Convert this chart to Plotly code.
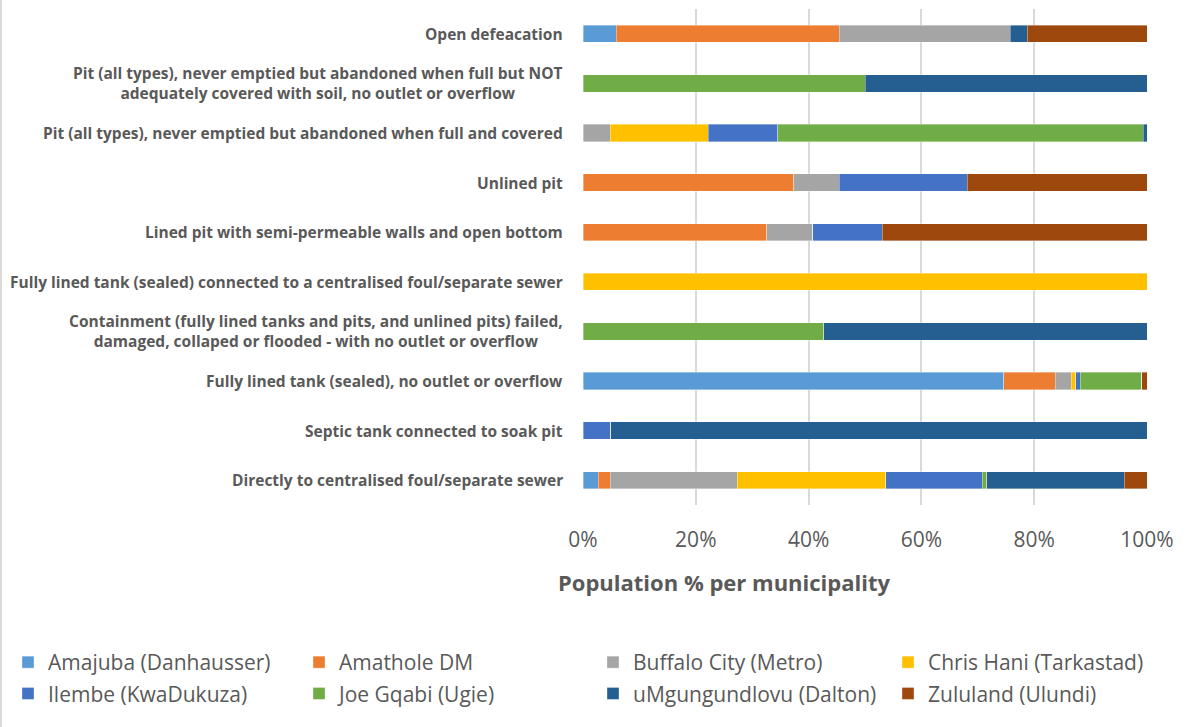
import plotly.graph_objects as go

categories = [
    "Open defeacation",
    "Pit (all types), never emptied but abandoned when full but NOT<br>adequately covered with soil, no outlet or overflow",
    "Pit (all types), never emptied but abandoned when full and covered",
    "Unlined pit",
    "Lined pit with semi-permeable walls and open bottom",
    "Fully lined tank (sealed) connected to a centralised foul/separate sewer",
    "Containment (fully lined tanks and pits, and unlined pits) failed,<br>damaged, collaped or flooded - with no outlet or overflow",
    "Fully lined tank (sealed), no outlet or overflow",
    "Septic tank connected to soak pit",
    "Directly to centralised foul/separate sewer",
]

series_names = [
    "Amajuba (Danhausser)", "Amathole DM", "Buffalo City (Metro)", "Chris Hani (Tarkastad)",
    "Ilembe (KwaDukuza)", "Joe Gqabi (Ugie)", "uMgungundlovu (Dalton)", "Zululand (Ulundi)",
]

amajuba       = [5.9, 0,    0,    0,    0,    0,   0,    74.6, 0,    2.7]
amathole      = [39.5, 0,   0,    37.4, 32.6, 0,   0,    9.1,  0,    2.1]
buffalo_city  = [30.3, 0,   4.8,  8.0,  8.1,  0,   0,    2.9,  0,    22.5]
chris_hani    = [0,    0,   17.4, 0,    0,    100, 0,    0.8,  0,    26.3]
ilembe        = [0,    0,   12.3, 22.7, 12.4, 0,   0,    0.8,  4.9,  17.1]
joe_gqabi     = [0,    50,  64.7, 0,    0,    0,   42.7, 10.9, 0,    0.8]
umgungundlovu = [3.0,  50,  0.7,  0,    0,    0,   57.3, 0,    95.1, 24.4]
zululand      = [21.2, 0,   0,    31.9, 46.9, 0,   0,    0.9,  0,    4.0]

colors = ["#5B9BD5", "#ED7D31", "#A5A5A5", "#FFC000", "#4472C4", "#70AD47", "#255E91", "#9E480E"]
values = [amajuba, amathole, buffalo_city, chris_hani, ilembe, joe_gqabi, umgungundlovu, zululand]

font_family = "Open Sans, sans-serif"
TXT = "#595959"

W, H = 1203, 727
ML, MR, MT, MB = 583, 56, 9, 222
PW, PH = W - ML - MR, H - MT - MB

legend_ids = ["legend", "legend2", "legend3", "legend4"]
legend_cols_px = [8, 299, 593, 888]

fig = go.Figure()
for i, (name, vals, col) in enumerate(zip(series_names, values, colors)):
    fig.add_trace(go.Bar(
        y=categories, x=vals, name=name, orientation="h",
        legend=legend_ids[i % 4], legendgroup=name,
        marker=dict(color=col, line=dict(width=0.6, color="rgba(255,255,255,0.6)")),
    ))

for cat in categories:
    fig.add_annotation(
        x=0, xref="paper", y=cat, yref="y", xanchor="right", xshift=-18,
        text="<b>" + cat + "</b>", showarrow=False, align="center",
        font=dict(family=font_family, size=15.5, color=TXT),
    )

fig.add_annotation(
    x=(724 - ML) / PW, xref="paper", y=-(582 - (MT + PH)) / PH, yref="paper",
    xanchor="center", yanchor="middle", showarrow=False,
    text="<b>Population % per municipality</b>",
    font=dict(family=font_family, size=22, color=TXT),
)

legend_common = dict(
    orientation="v", xanchor="left", yanchor="top",
    y=-(642 - (MT + PH)) / PH,
    font=dict(size=21, color=TXT, family=font_family),
    itemwidth=30, tracegroupgap=1, bgcolor="rgba(0,0,0,0)",
)
legend_layout = {}
for lid, px in zip(legend_ids, legend_cols_px):
    legend_layout[lid] = dict(legend_common, x=(px - ML) / PW)

fig.update_layout(
    barmode="stack",
    barnorm="percent",
    bargap=0.65,
    width=W, height=H,
    margin=dict(l=ML, r=MR, t=MT, b=MB),
    paper_bgcolor="white", plot_bgcolor="white",
    font=dict(family=font_family, color=TXT),
    xaxis=dict(
        range=[0, 100], tickvals=[0, 20, 40, 60, 80, 100],
        ticktext=["0%", "20%", "40%", "60%", "80%", "100%"],
        showgrid=True, gridcolor="#D9D9D9", gridwidth=1.5,
        zeroline=False, showline=False, automargin=False,
        tickfont=dict(size=21, color=TXT),
        ticklabelstandoff=20,
    ),
    yaxis=dict(
        categoryorder="array", categoryarray=categories,
        autorange="reversed", showticklabels=False, showgrid=False,
        zeroline=False, showline=False, automargin=False,
    ),
    shapes=[dict(type="line", xref="paper", yref="paper", x0=(1 - ML) / PW, x1=(1 - ML) / PW,
                 y0=-MB / PH, y1=(H - MB) / PH, line=dict(color="#D9D9D9", width=2))],
    **legend_layout,
)

fig.write_html("out.html")
